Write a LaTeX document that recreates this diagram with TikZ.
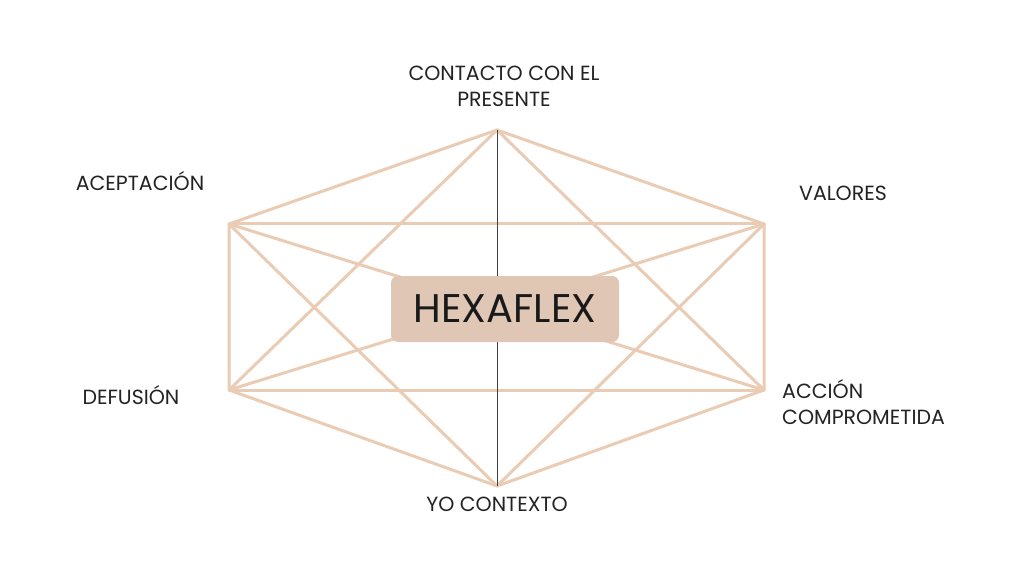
\documentclass[tikz,border=0pt]{standalone}
\usepackage{fontspec}
\setmainfont{Poppins}
\definecolor{hexline}{RGB}{234,204,181}
\definecolor{boxfill}{RGB}{224,199,181}
\definecolor{labeltext}{RGB}{35,35,35}
\begin{document}
\begin{tikzpicture}[x=1pt,y=-1pt,
  edge/.style={draw=hexline,line width=3pt},
  axis/.style={draw=black!75,line width=0.8pt},
  lbl/.style={text=labeltext,font=\fontsize{20.5}{26}\selectfont,inner sep=0pt,align=center},
  centerbox/.style={fill=boxfill,rounded corners=7pt,minimum width=228pt,minimum height=66pt,inner sep=0pt,font=\fontsize{40}{44}\selectfont,text=black!90}]
\useasboundingbox (0,0) rectangle (1024,577);
\fill[white] (0,0) rectangle (1024,577);
\coordinate (T) at (497,130);
\coordinate (UR) at (764,224);
\coordinate (LR) at (764,390);
\coordinate (B) at (497,486);
\coordinate (LL) at (229,390);
\coordinate (UL) at (229,224);
% sides
\draw[edge,line join=miter] (T) -- (UR) -- (LR) -- (B) -- (LL) -- (UL) -- cycle;
% diagonals
\draw[edge] (UL) -- (UR);
\draw[edge] (LL) -- (LR);
\draw[edge] (UL) -- (LR);
\draw[edge] (LL) -- (UR);
\draw[edge] (T) -- (LL);
\draw[edge] (T) -- (LR);
\draw[edge] (B) -- (UL);
\draw[edge] (B) -- (UR);
\draw[axis] (T) -- (B);
\node[centerbox] (hex) at (505,309) {HEXAFLEX};
% labels
\node[lbl] (contacto) at (504,86) {CONTACTO CON EL\\PRESENTE};
\node[lbl] (aceptacion) at (140,181) {ACEPTACIÓN};
\node[lbl] (valores) at (843,193) {VALORES};
\node[lbl] (defusion) at (131,395) {DEFUSIÓN};
\node[lbl,align=left,anchor=west] (accion) at (782,402) {ACCIÓN\\COMPROMETIDA};
\node[lbl] (yo) at (497,504) {YO CONTEXTO};
\end{tikzpicture}
\end{document}
